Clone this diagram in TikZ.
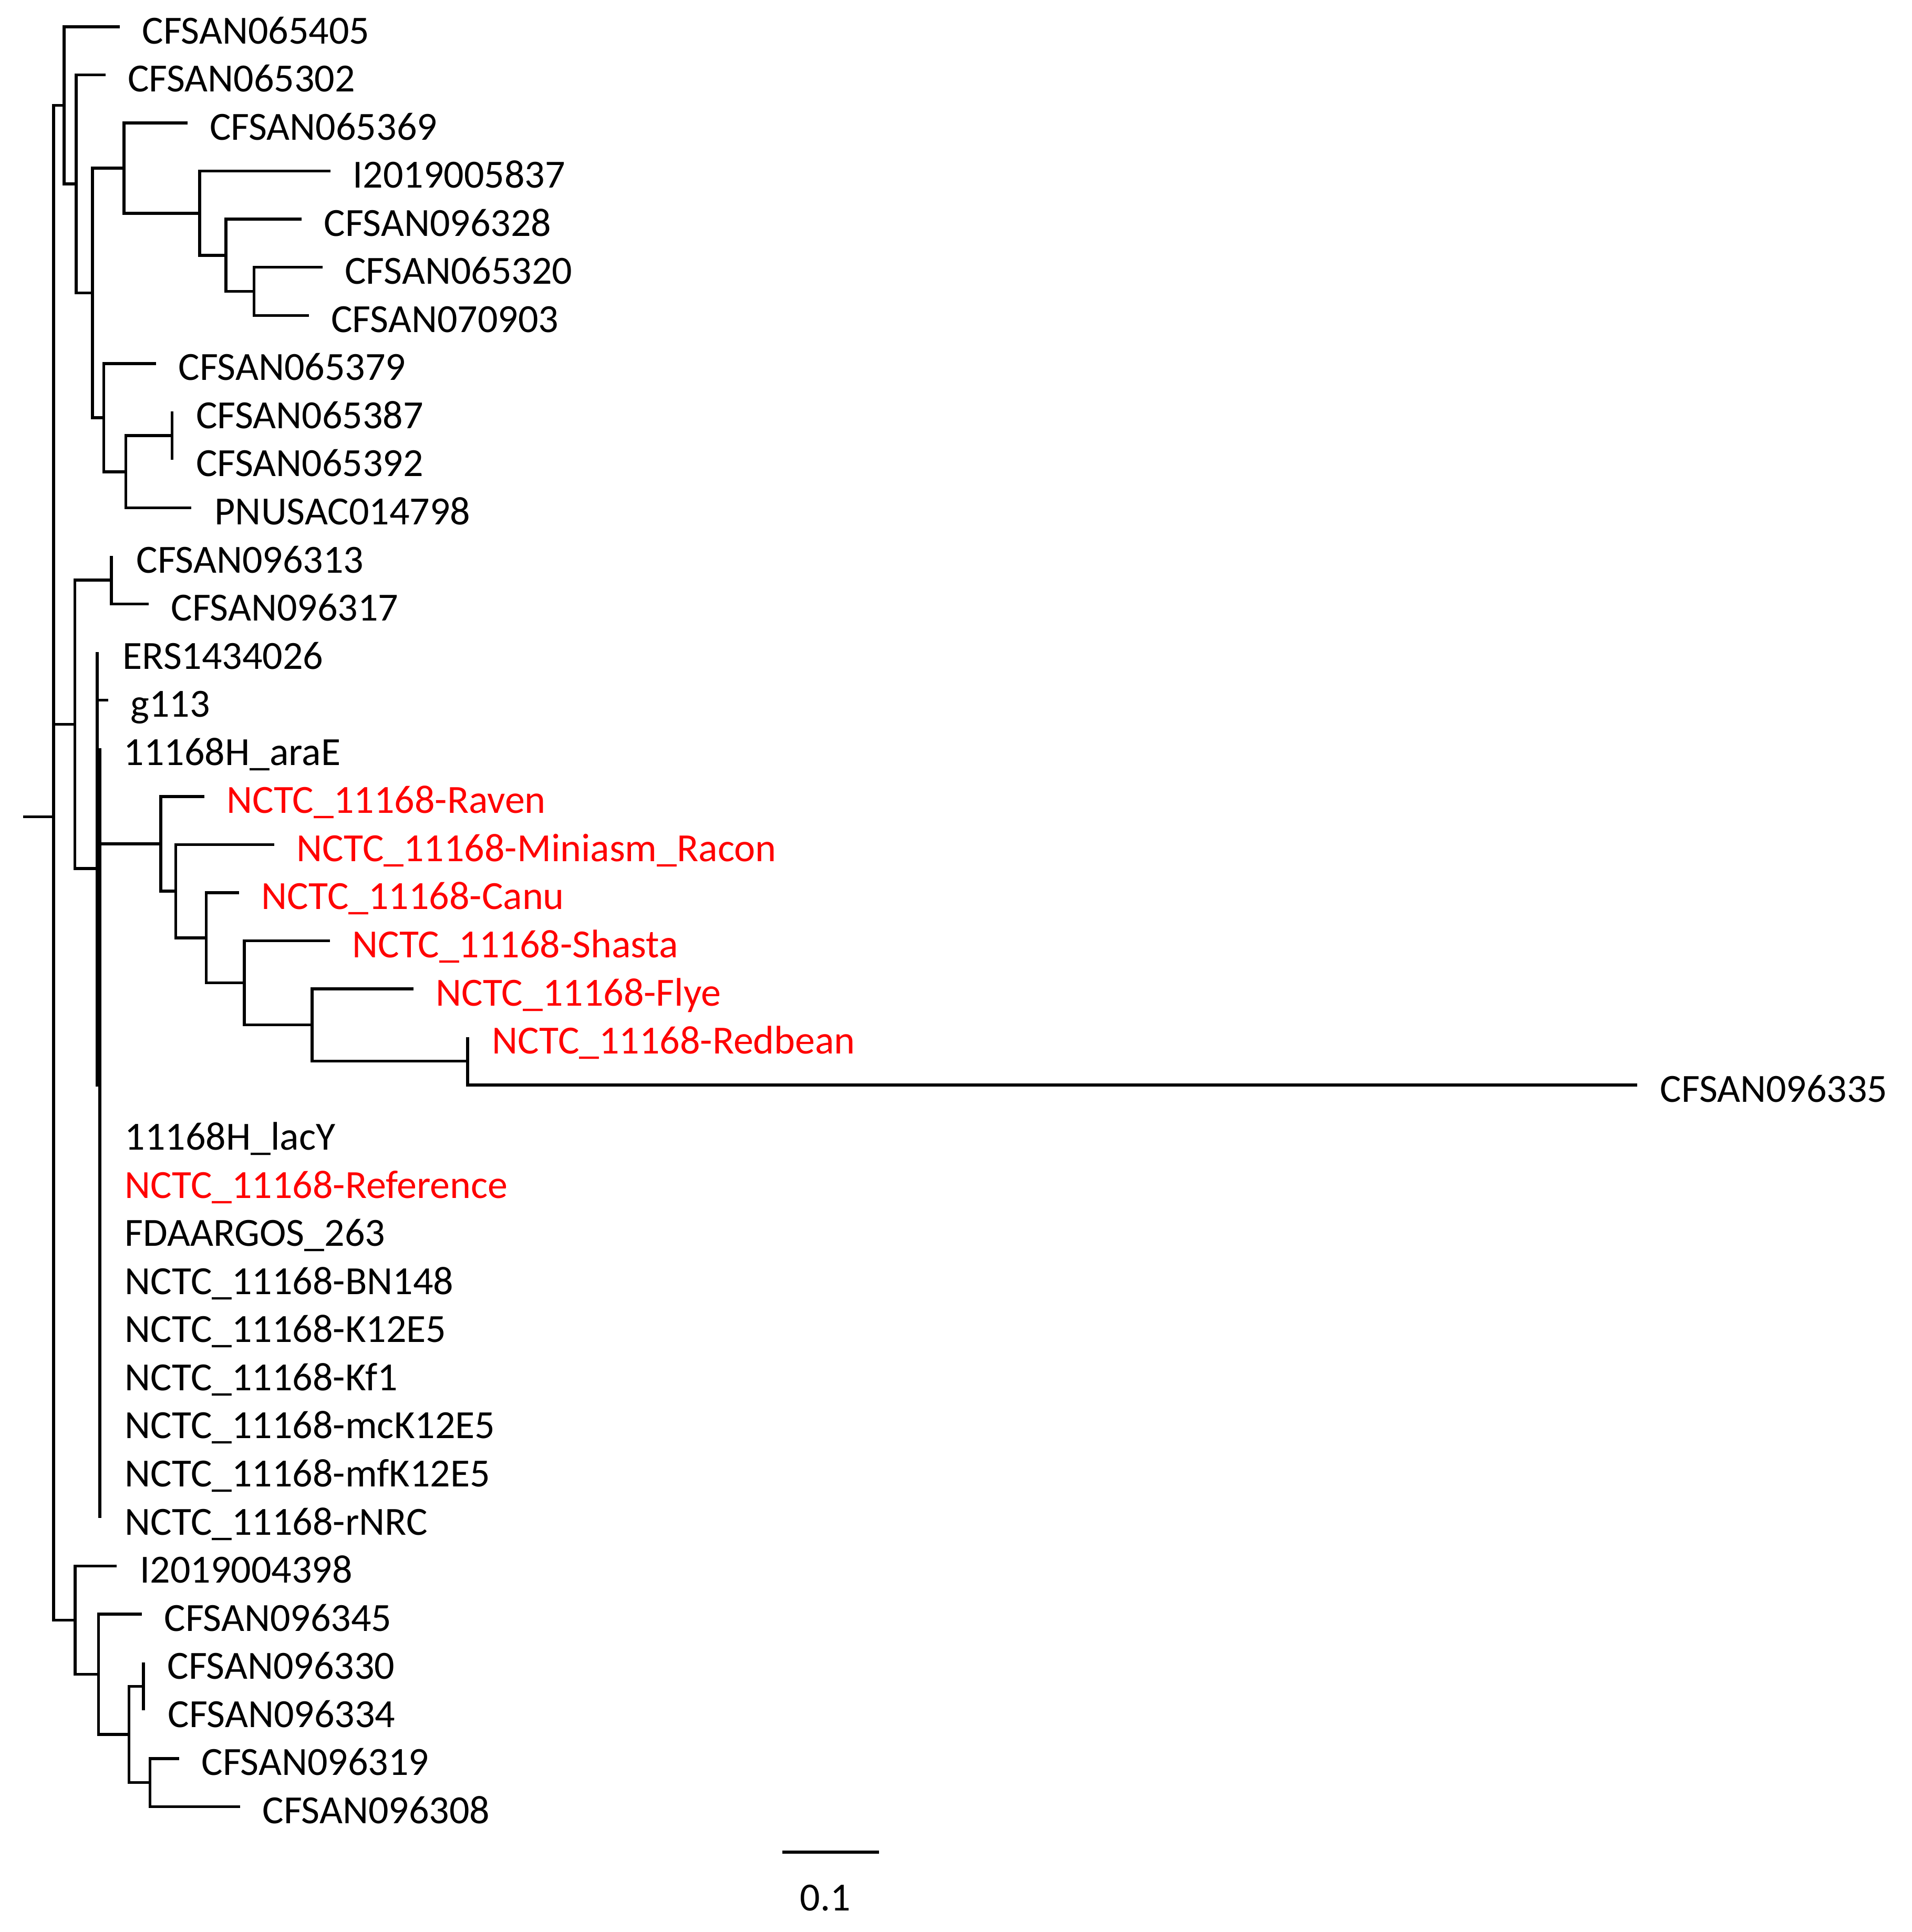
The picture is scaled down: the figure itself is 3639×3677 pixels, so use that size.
\documentclass[tikz,border=0pt]{standalone}
\usepackage{fontspec}
\setmainfont{Carlito}
\begin{document}
\begin{tikzpicture}[x=0.01cm,y=-0.01cm,
  br/.style={line width=1.55pt, line join=miter},
  lab/.style={anchor=base west, inner sep=0pt, font=\fontsize{21.6pt}{25pt}\selectfont},
  redlab/.style={lab, text=red}]
\useasboundingbox (0,0) rectangle (3639,3677);
% ---------- internal nodes ----------
\coordinate (stub) at (44,1554.7);
\coordinate (R)   at (102,1554.7);
\coordinate (A1)  at (122,200.5);
\coordinate (A2)  at (145,350);
\coordinate (A3)  at (176,557.4);
\coordinate (A4)  at (236,320);
\coordinate (A5)  at (380,405.8);
\coordinate (A6)  at (430,485.9);
\coordinate (A7)  at (483.6,554.5);
\coordinate (A8)  at (197.4,794.9);
\coordinate (A9)  at (239.5,897.9);
\coordinate (A10) at (327.5,829.2);
\coordinate (B)   at (142.7,1378.4);
\coordinate (B1)  at (212,1103.8);
\coordinate (B2)  at (185,1653);
\coordinate (B3)  at (190,2065);
\coordinate (B3top) at (190,1424.25);
\coordinate (B3bot) at (190,2889.05);
\coordinate (C)   at (306,1606);
\coordinate (C2)  at (334.4,1696.1);
\coordinate (C3)  at (392.6,1784.8);
\coordinate (C4)  at (465,1870.6);
\coordinate (C5)  at (594,1950.7);
\coordinate (C6)  at (890,2019.3);
\coordinate (D)   at (143,3083.6);
\coordinate (D2)  at (187.5,3186.6);
\coordinate (D3)  at (245.6,3301);
\coordinate (D4)  at (273,3209.5);
\coordinate (D5)  at (285.5,3392.6);
% ---------- tips ----------
\coordinate (t0)  at (228,51);
\coordinate (t1)  at (200.5,142.55);
\coordinate (t2)  at (356.6,234.1);
\coordinate (t3)  at (629,325.65);
\coordinate (t4)  at (574,417.2);
\coordinate (t5)  at (613.7,508.75);
\coordinate (t6)  at (587.7,600.3);
\coordinate (t7)  at (297,691.85);
\coordinate (t8)  at (327.5,783.4);
\coordinate (t9)  at (327.5,874.95);
\coordinate (t10) at (364,966.5);
\coordinate (t11) at (212,1058.05);
\coordinate (t12) at (283,1149.6);
\coordinate (t13) at (185,1241.15);
\coordinate (t14) at (206,1332.7);
\coordinate (t15) at (190,1424.25);
\coordinate (t16) at (388.8,1515.8);
\coordinate (t17) at (522,1607.35);
\coordinate (t18) at (455,1698.9);
\coordinate (t19) at (627.5,1790.45);
\coordinate (t20) at (786.7,1882);
\coordinate (t21) at (890,1973.55);
\coordinate (t22) at (3116,2065.1);
\coordinate (t23) at (190,2156.65);
\coordinate (t24) at (190,2248.2);
\coordinate (t25) at (190,2339.75);
\coordinate (t26) at (190,2431.3);
\coordinate (t27) at (190,2522.85);
\coordinate (t28) at (190,2614.4);
\coordinate (t29) at (190,2705.95);
\coordinate (t30) at (190,2797.5);
\coordinate (t31) at (190,2889.05);
\coordinate (t32) at (222,2980.6);
\coordinate (t33) at (270,3072.15);
\coordinate (t34) at (273,3163.7);
\coordinate (t35) at (273,3255.25);
\coordinate (t36) at (341,3346.8);
\coordinate (t37) at (457,3438.35);
% ---------- branches ----------
\draw[br] (stub) -- (R);
\draw[br] (R) |- (A1);
\draw[br] (R) |- (B);
\draw[br] (R) |- (D);
\draw[br] (A1) |- (t0);   \draw[br] (A1) |- (A2);
\draw[br] (A2) |- (t1);   \draw[br] (A2) |- (A3);
\draw[br] (A3) |- (A4);   \draw[br] (A3) |- (A8);
\draw[br] (A4) |- (t2);   \draw[br] (A4) |- (A5);
\draw[br] (A5) |- (t3);   \draw[br] (A5) |- (A6);
\draw[br] (A6) |- (t4);   \draw[br] (A6) |- (A7);
\draw[br] (A7) |- (t5);   \draw[br] (A7) |- (t6);
\draw[br] (A8) |- (t7);   \draw[br] (A8) |- (A9);
\draw[br] (A9) |- (A10);  \draw[br] (A9) |- (t10);
\draw[br] (A10) -- (t8);  \draw[br] (A10) -- (t9);
\draw[br] (B) |- (B1);    \draw[br] (B) |- (B2);
\draw[br] (B1) -- (t11);  \draw[br] (B1) |- (t12);
\draw[br] (B2) -- (t13);  \draw[br] (B2) |- (t14);  \draw[br] (B2) |- (B3);
\draw[br] (B3top) -- (B3bot);
\draw[br] (B3top) |- (C);
\draw[br] (C) |- (t16);   \draw[br] (C) |- (C2);
\draw[br] (C2) |- (t17);  \draw[br] (C2) |- (C3);
\draw[br] (C3) |- (t18);  \draw[br] (C3) |- (C4);
\draw[br] (C4) |- (t19);  \draw[br] (C4) |- (C5);
\draw[br] (C5) |- (t20);  \draw[br] (C5) |- (C6);
\draw[br] (C6) -- (t21);  \draw[br] (C6) |- (t22);
\draw[br] (D) |- (t32);   \draw[br] (D) |- (D2);
\draw[br] (D2) |- (t33);  \draw[br] (D2) |- (D3);
\draw[br] (D3) |- (D4);   \draw[br] (D3) |- (D5);
\draw[br] (D4) -- (t34);  \draw[br] (D4) -- (t35);
\draw[br] (D5) |- (t36);  \draw[br] (D5) |- (t37);
% ---------- labels ----------
\node[lab] (L0)  at ([shift={(42,32)}]t0)  {CFSAN065405};
\node[lab] (L1)  at ([shift={(42,32)}]t1)  {CFSAN065302};
\node[lab] (L2)  at ([shift={(42,32)}]t2)  {CFSAN065369};
\node[lab] (L3)  at ([shift={(42,32)}]t3)  {I2019005837};
\node[lab] (L4)  at ([shift={(42,32)}]t4)  {CFSAN096328};
\node[lab] (L5)  at ([shift={(42,32)}]t5)  {CFSAN065320};
\node[lab] (L6)  at ([shift={(42,32)}]t6)  {CFSAN070903};
\node[lab] (L7)  at ([shift={(42,32)}]t7)  {CFSAN065379};
\node[lab] (L8)  at ([shift={(45,32)}]t8)  {CFSAN065387};
\node[lab] (L9)  at ([shift={(45,32)}]t9)  {CFSAN065392};
\node[lab] (L10) at ([shift={(44,32)}]t10) {PNUSAC014798};
\node[lab] (L11) at ([shift={(47,32)}]t11) {CFSAN096313};
\node[lab] (L12) at ([shift={(42,32)}]t12) {CFSAN096317};
\node[lab] (L13) at ([shift={(48,32)}]t13) {ERS1434026};
\node[lab] (L14) at ([shift={(42,32)}]t14) {g113};
\node[lab] (L15) at ([shift={(45,32)}]t15) {11168H\_araE};
\node[redlab] (L16) at ([shift={(42,32)}]t16) {NCTC\_11168-Raven};
\node[redlab] (L17) at ([shift={(42,32)}]t17) {NCTC\_11168-Miniasm\_Racon};
\node[redlab] (L18) at ([shift={(42,32)}]t18) {NCTC\_11168-Canu};
\node[redlab] (L19) at ([shift={(42,32)}]t19) {NCTC\_11168-Shasta};
\node[redlab] (L20) at ([shift={(42,32)}]t20) {NCTC\_11168-Flye};
\node[redlab] (L21) at ([shift={(46,32)}]t21) {NCTC\_11168-Redbean};
\node[lab] (L22) at ([shift={(43,32)}]t22) {CFSAN096335};
\node[lab] (L23) at ([shift={(47,32)}]t23) {11168H\_lacY};
\node[redlab] (L24) at ([shift={(47,32)}]t24) {NCTC\_11168-Reference};
\node[lab] (L25) at ([shift={(47,32)}]t25) {FDAARGOS\_263};
\node[lab] (L26) at ([shift={(47,32)}]t26) {NCTC\_11168-BN148};
\node[lab] (L27) at ([shift={(47,32)}]t27) {NCTC\_11168-K12E5};
\node[lab] (L28) at ([shift={(47,32)}]t28) {NCTC\_11168-Kf1};
\node[lab] (L29) at ([shift={(47,32)}]t29) {NCTC\_11168-mcK12E5};
\node[lab] (L30) at ([shift={(47,32)}]t30) {NCTC\_11168-mfK12E5};
\node[lab] (L31) at ([shift={(47,32)}]t31) {NCTC\_11168-rNRC};
\node[lab] (L32) at ([shift={(44,32)}]t32) {I2019004398};
\node[lab] (L33) at ([shift={(42,32)}]t33) {CFSAN096345};
\node[lab] (L34) at ([shift={(45,32)}]t34) {CFSAN096330};
\node[lab] (L35) at ([shift={(46,32)}]t35) {CFSAN096334};
\node[lab] (L36) at ([shift={(42,32)}]t36) {CFSAN096319};
\node[lab] (L37) at ([shift={(42,32)}]t37) {CFSAN096308};
% ---------- scale bar ----------
\coordinate (sb1) at (1489,3525);
\coordinate (sb2) at (1673,3525);
\draw[br] (sb1) -- (sb2);
\node[lab, anchor=base] (sbl) at (1571,3636) {0.1};
\end{tikzpicture}
\end{document}
